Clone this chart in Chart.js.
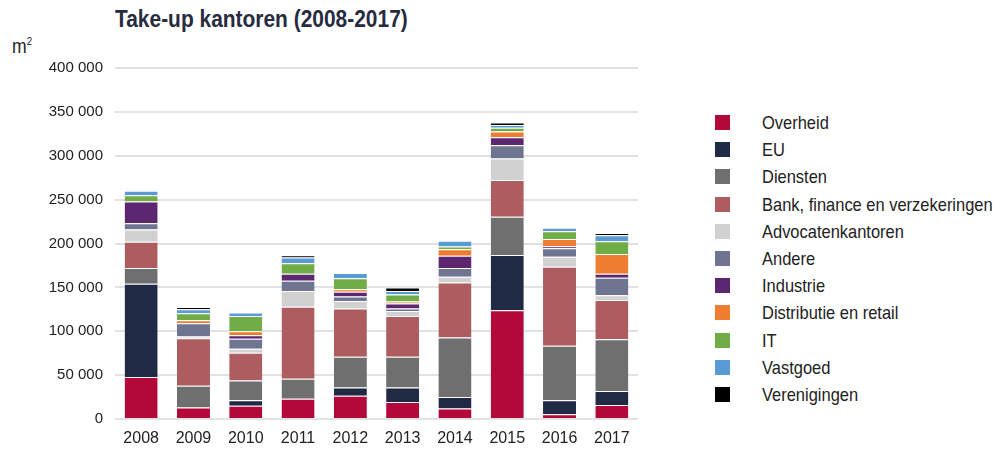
<!DOCTYPE html>
<html>
<head>
<meta charset="utf-8">
<script src="https://cdn.jsdelivr.net/npm/chart.js@4"></script>
<style>
    body { margin: 0; background: #fff; font-family: 'Liberation Sans', Arial, sans-serif; }
    #wrap { position: relative; width: 1003px; height: 449px; }
    #title { position: absolute; left: 115px; top: 6px; font-size: 23px; font-weight: bold; color: #262b40; white-space: nowrap; transform: scaleX(0.91); transform-origin: left top; }
    #unit { position: absolute; left: 12px; top: 35px; font-size: 20px; color: #222; transform: scaleX(0.88); transform-origin: left top; }
    #unit sup { font-size: 11px; }
    #cv { position: absolute; left: 0; top: 0; }
    #legend { position: absolute; left: 715px; top: 109px; list-style: none; margin: 0; padding: 0; }
    #legend li { height: 27.2px; line-height: 27.2px; font-size: 18.5px; color: #222; display: flex; align-items: center; white-space: nowrap; }
    #legend .box { width: 15px; height: 15px; margin-right: 32px; flex: none; }
    #legend .txt { display: inline-block; transform: scaleX(0.89); transform-origin: left center; }
</style>
</head>
<body>
<div id="wrap">
    <div id="title">Take-up kantoren (2008-2017)</div>
    <div id="unit">m<sup>2</sup></div>
    <canvas id="cv" width="640" height="449"></canvas>
    <ul id="legend"></ul>
</div>
<script>
const years = ['2008', '2009', '2010', '2011', '2012', '2013', '2014', '2015', '2016', '2017'];
const sectors = ['Overheid', 'EU', 'Diensten', 'Bank, finance en verzekeringen', 'Advocatenkantoren',
    'Andere', 'Industrie', 'Distributie en retail', 'IT', 'Vastgoed', 'Verenigingen'];
const colors = ['#b3093a', '#212a45', '#6f6f6f', '#ad5d60', '#d0d1d0', '#6f7490', '#5c2670', '#ee7d31', '#70ad47', '#5b9bd5', '#000000'];

// m² per year, one array per sector
const overheid     = [48000, 13000, 15000, 23000, 26500, 19500, 12000, 124000,  5500, 16000];
const eu           = [106000,    0,  6500,     0,  9500, 16500, 13000,  63000, 16000, 16000];
const diensten     = [18000, 25000, 22500, 23000, 35000, 35000, 68000,  43500, 62000, 59000];
const bank         = [30000, 54000, 31500, 82000, 55000, 46500, 62500,  42000, 90000, 44500];
const advocaten    = [14000,  2000,  4500, 18000,  8500,  5500,  6500,  24500, 11500,  5500];
const andere       = [ 7000, 15000, 11500, 11500,  5000,  3000, 10000,  15000,  9500, 20000];
const industrie    = [25000,     0,  4000,  8000,  5500,  5500, 14000,   9000,  2500,  4500];
const distributie  = [    0,  3500,  4500,     0,  3000,  2500,  7500,   6500,  8000, 22500];
const it           = [ 7000,  8000, 17500, 12000, 12500,  8000,  3000,   4500,  9000, 14500];
const vastgoed     = [ 5000,  4500,  4000,  6500,  6000,  4000,  6500,   3000,  4000,  7000];
const verenigingen = [    0,  2500,     0,  2500,     0,  4000,     0,   3000,     0,  2500];
const series = [overheid, eu, diensten, bank, advocaten, andere, industrie, distributie, it, vastgoed, verenigingen];

const yTicks = [0, 50000, 100000, 150000, 200000, 250000, 300000, 350000, 400000];

const fontFam = "'Liberation Sans', Arial, sans-serif";

const lg = document.getElementById('legend');
sectors.forEach((s, i) => {
    lg.innerHTML += `<li><span class="box" style="background:${colors[i]}"></span><span class="txt">${s}</span></li>`;
});

new Chart(document.getElementById('cv'), {
    type: 'bar',
    data: {
        labels: years,
        datasets: sectors.map((s, i) => ({
            label: s,
            data: series[i],
            backgroundColor: colors[i],
            borderColor: '#ffffff',
            borderWidth: { top: 1, bottom: 0, left: 0, right: 0 },
            borderSkipped: false,
            barPercentage: 0.8,
            categoryPercentage: 0.79
        }))
    },
    options: {
        responsive: false,
        animation: false,
        layout: { padding: { top: 68, right: 2, bottom: 0, left: 0 } },
        plugins: { legend: { display: false }, tooltip: { enabled: false } },
        scales: {
            x: {
                stacked: true,
                grid: { display: false, drawTicks: false },
                border: { display: false },
                ticks: { color: '#222', padding: 10, font: { family: fontFam, size: 16 } },
                afterFit: s => { s.height = 30; }
            },
            y: {
                stacked: true,
                min: 0,
                max: 400000,
                afterBuildTicks: s => { s.ticks = yTicks.map(v => ({ value: v })); },
                grid: { color: '#e2e2e2', lineWidth: 2, drawTicks: false },
                border: { display: false },
                ticks: {
                    color: '#222',
                    padding: 12,
                    font: { family: fontFam, size: 15 },
                    callback: v => v.toLocaleString('en-US').replace(/,/g, ' ')
                },
                afterFit: s => { s.width = 115; }
            }
        }
    }
});
</script>
</body>
</html>
